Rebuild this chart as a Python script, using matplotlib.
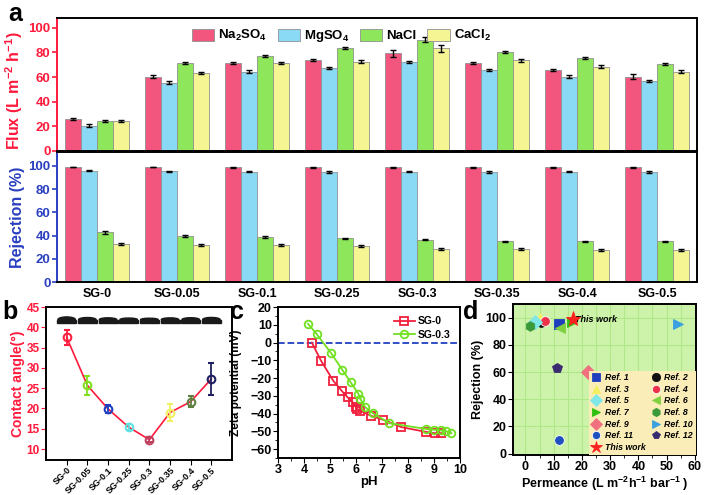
import numpy as np
import matplotlib
matplotlib.use('Agg')
import matplotlib.pyplot as plt
from matplotlib.patches import Ellipse, Rectangle

plt.rcParams['font.family'] = ['Liberation Sans', 'DejaVu Sans']
plt.rcParams['font.weight'] = 'bold'
plt.rcParams['axes.labelweight'] = 'bold'
plt.rcParams['axes.linewidth'] = 1.4
plt.rcParams['mathtext.fontset'] = 'custom'
plt.rcParams['mathtext.rm'] = 'Liberation Sans:bold'
plt.rcParams['mathtext.default'] = 'rm'

# ---- panel a data ----
samples = ['SG-0', 'SG-0.05', 'SG-0.1', 'SG-0.25', 'SG-0.3', 'SG-0.35', 'SG-0.4', 'SG-0.5']
salts = ['Na$_2$SO$_4$', 'MgSO$_4$', 'NaCl', 'CaCl$_2$']
salt_colors = ['#f2557d', '#8ad9f5', '#8ee65a', '#f5f594']

flux_na2so4 = [25.8, 60.3, 71.5, 73.6, 79.3, 71.5, 65.5, 60.3]
flux_mgso4 = [20.6, 55.4, 64.4, 67.4, 72.5, 65.5, 60.3, 56.5]
flux_nacl = [24.2, 71.5, 77.2, 83.4, 90.2, 80.4, 75.5, 70.4]
flux_cacl2 = [24.2, 63.3, 71.5, 72.5, 83.2, 73.6, 68.5, 64.4]
flux_err_na2so4 = [1.0, 1.0, 1.0, 1.0, 3.0, 1.0, 1.0, 2.0]
flux_err_mgso4 = [1.0, 1.0, 1.0, 1.0, 0.8, 0.8, 1.0, 0.8]
flux_err_nacl = [1.0, 1.0, 1.0, 1.0, 2.0, 1.0, 1.0, 1.0]
flux_err_cacl2 = [1.0, 1.0, 1.0, 1.0, 3.0, 1.2, 1.0, 1.0]

rej_na2so4 = [99.1, 99.0, 98.8, 98.8, 98.8, 98.8, 98.8, 98.8]
rej_mgso4 = [95.9, 95.3, 95.0, 94.8, 95.0, 94.8, 95.0, 94.8]
rej_nacl = [42.7, 39.5, 39.0, 37.5, 36.6, 34.9, 34.9, 34.9]
rej_cacl2 = [32.8, 32.0, 31.7, 30.8, 28.8, 28.5, 27.9, 27.9]
rej_err_na2so4 = [0.3, 0.3, 0.3, 0.3, 0.3, 0.3, 0.3, 0.3]
rej_err_mgso4 = [0.5, 0.5, 0.5, 0.5, 0.5, 0.5, 0.5, 0.5]
rej_err_nacl = [1.2, 0.8, 0.8, 0.8, 0.8, 0.8, 0.8, 0.8]
rej_err_cacl2 = [1.0, 0.8, 0.8, 0.8, 0.8, 0.8, 0.8, 0.8]

# ---- panel b data ----
contact_angle = [37.5, 25.7, 19.9, 15.4, 12.3, 19.0, 21.7, 27.3]
contact_err = [1.8, 2.3, 1.0, 0.8, 0.6, 2.2, 1.3, 3.9]
ca_colors = ['#ff2040', '#80e020', '#2040c0', '#60e0e0', '#c04060', '#f0f060', '#608040', '#202060']

# ---- panel c data ----
ph_sg0 = [4.30, 4.65, 5.12, 5.45, 5.68, 5.88, 5.98, 6.04, 6.17, 6.57, 7.05, 7.74, 8.69, 9.02, 9.28]
zeta_sg0 = [0.0, -10.1, -21.4, -27.2, -30.9, -33.7, -36.0, -37.3, -38.4, -41.2, -43.5, -47.6, -50.3, -51.0, -51.0]
ph_sg03 = [4.15, 4.48, 5.05, 5.47, 5.79, 6.09, 6.17, 6.35, 6.66, 7.28, 8.69, 9.00, 9.27, 9.46, 9.67]
zeta_sg03 = [10.6, 4.9, -6.1, -15.3, -22.3, -28.8, -31.8, -36.3, -39.9, -45.4, -48.6, -49.1, -49.5, -49.9, -51.0]

# ---- panel d data ----
ref_names = ['Ref. 1', 'Ref. 2', 'Ref. 3', 'Ref. 4', 'Ref. 5', 'Ref. 6', 'Ref. 7',
             'Ref. 8', 'Ref. 9', 'Ref. 10', 'Ref. 11', 'Ref. 12', 'This work']
permeance = [11.8, 5.6, 5.0, 7.0, 3.5, 12.4, 16.5, 1.5, 22.1, 54.0, 12.0, 11.3, 16.8]
rejection = [95.1, 96.8, 99.5, 97.6, 96.8, 92.4, 97.0, 93.9, 60.0, 95.1, 9.8, 62.9, 98.8]
ref_markers = ['s', 'o', '^', 'o', 'D', '<', '>', 'h', 'D', '>', 'o', 'p', '*']
ref_colors = ['#1f3fbf', '#101010', '#f2f060', '#ee3048', '#80e8e8', '#80d040', '#30c010',
              '#3a9a3a', '#f07080', '#3aa0e0', '#2050c0', '#3a2a70', '#ff2020']

fig = plt.figure(figsize=(7.06, 4.95), dpi=100)

# ================= a =================
ax1 = fig.add_axes([0.0807, 0.695, 0.907, 0.269])
ax2 = fig.add_axes([0.0807, 0.4303, 0.907, 0.2626])
x = np.arange(len(samples))
bw = 0.2
flux = [flux_na2so4, flux_mgso4, flux_nacl, flux_cacl2]
flux_err = [flux_err_na2so4, flux_err_mgso4, flux_err_nacl, flux_err_cacl2]
rej = [rej_na2so4, rej_mgso4, rej_nacl, rej_cacl2]
rej_err = [rej_err_na2so4, rej_err_mgso4, rej_err_nacl, rej_err_cacl2]
for k in range(4):
    xp = x + (k - 1.5) * bw
    ax1.bar(xp, flux[k], bw, color=salt_colors[k], edgecolor='#909090', linewidth=0.6,
            yerr=flux_err[k], capsize=2, error_kw={'elinewidth': 1, 'ecolor': 'k', 'capthick': 1},
            label=salts[k])
    ax2.bar(xp, rej[k], bw, color=salt_colors[k], edgecolor='#909090', linewidth=0.6,
            yerr=rej_err[k], capsize=2, error_kw={'elinewidth': 1, 'ecolor': 'k', 'capthick': 1})

red = '#ff1a3c'
blue = '#2a3fc0'
ax1.set_xlim(-0.5, 7.5)
ax1.set_ylim(0, 108)
ax1.set_yticks([0, 20, 40, 60, 80, 100])
ax1.set_xticks([])
ax1.tick_params(axis='y', colors=red, labelsize=9.5, width=1.2, pad=1)
ax1.spines['left'].set_color(red)
ax1.set_ylabel('Flux (L m$^{-2}$ h$^{-1}$)', color=red, fontsize=11.5)
ax1.yaxis.set_label_coords(-0.05, 0.45)
ax1.legend(loc='upper center', bbox_to_anchor=(0.444, 1.01), ncol=4, frameon=False,
           fontsize=9.5, handlelength=1.7, handleheight=1.0, handletextpad=0.3, columnspacing=0.8)

ax2.set_xlim(-0.5, 7.5)
ax2.set_ylim(0, 112)
ax2.set_yticks([0, 20, 40, 60, 80, 100])
ax2.set_xticks(x)
ax2.set_xticklabels(samples, fontsize=9)
ax2.tick_params(axis='x', length=0, pad=4)
ax2.tick_params(axis='y', colors=blue, labelsize=9.5, width=1.2, pad=1)
ax2.spines['left'].set_color(blue)
ax2.set_ylabel('Rejection (%)', color=blue, fontsize=11.5)
ax2.yaxis.set_label_coords(-0.05, 0.5)

fig.text(0.011, 0.995, 'a', fontsize=18, fontweight='bold', va='top')

# ================= b =================
ax3 = fig.add_axes([0.0652, 0.0707, 0.2635, 0.309])
ax3.plot(x, contact_angle, '-', color=red, linewidth=1.2, zorder=2)
for i in range(len(samples)):
    ax3.errorbar(x[i], contact_angle[i], yerr=contact_err[i], fmt='o', color=ca_colors[i],
                 markerfacecolor='none', markersize=5.5, markeredgewidth=1.5,
                 capsize=2.5, elinewidth=1.3, capthick=1.3, zorder=3)
    # droplet pictures along the top
    ax3.add_patch(Rectangle((x[i] - 0.46, 41.0), 0.92, 0.9, color='#1a1a1a', zorder=1))
    ax3.add_patch(Ellipse((x[i], 41.9), 0.85, 0.4 + contact_angle[i] / 40, color='#1a1a1a', zorder=1))
ax3.set_xlim(-1, 8)
ax3.set_ylim(7.3, 45)
ax3.set_yticks([10, 15, 20, 25, 30, 35, 40, 45])
ax3.set_xticks(x)
ax3.set_xticklabels(samples, rotation=45, ha='right', rotation_mode='anchor', fontsize=6.5)
ax3.tick_params(axis='y', colors=red, labelsize=8.5, pad=1)
ax3.tick_params(axis='x', pad=0.5)
ax3.set_ylabel('Contact angle(°)', color=red, fontsize=10, labelpad=1)
fig.text(0.004, 0.393, 'b', fontsize=18, fontweight='bold', va='top')

# ================= c =================
ax4 = fig.add_axes([0.3938, 0.0747, 0.2578, 0.305])
ax4.axhline(0, color='#2040c0', linestyle='--', linewidth=1.3, zorder=1)
ax4.plot(ph_sg0, zeta_sg0, '-s', color='#f0203c', markerfacecolor='none', markersize=5.5,
         markeredgewidth=1.3, linewidth=1.3, label='SG-0')
ax4.plot(ph_sg03, zeta_sg03, '-o', color='#70e020', markerfacecolor='none', markersize=5.5,
         markeredgewidth=1.3, linewidth=1.3, label='SG-0.3')
ax4.set_xlim(3, 10)
ax4.set_ylim(-65, 20)
ax4.set_xticks(range(3, 11))
ax4.set_yticks(range(-60, 21, 10))
ax4.set_yticks(range(-65, 20, 10), minor=True)
ax4.set_xticks(np.arange(3.5, 10, 1), minor=True)
ax4.tick_params(labelsize=9, pad=1)
ax4.set_xlabel('pH', fontsize=9.5, labelpad=0)
ax4.set_ylabel('Zeta potential (mV)', fontsize=8.5)
ax4.yaxis.set_label_coords(-0.2, 0.5)
ax4.legend(loc='upper right', frameon=False, fontsize=7.5, handlelength=2.0, handletextpad=0.3,
           labelspacing=0.3)
fig.text(0.326, 0.393, 'c', fontsize=18, fontweight='bold', va='top')

# ================= d =================
ax5 = fig.add_axes([0.7266, 0.0808, 0.2592, 0.305])
ax5.set_facecolor('#cdf3aa')
ax5.set_xticks(range(-5, 61, 5), minor=True)
ax5.grid(True, which='both', color='#b0e888', linewidth=0.8)
ax5.set_axisbelow(True)
handles = []
for i in range(len(ref_names)):
    ms = 11 if ref_markers[i] == '*' else 7
    ec = 'white' if ref_markers[i] == 'o' and i != 1 else ref_colors[i]
    h, = ax5.plot(permeance[i], rejection[i], linestyle='none', marker=ref_markers[i],
                  color=ref_colors[i], markersize=ms, markeredgecolor=ec,
                  markeredgewidth=0.6, label=ref_names[i], zorder=3 if i < 12 else 4)
    handles.append(h)
ax5.text(permeance[-1] + 0.9, rejection[-1], 'This work', fontsize=6.5, fontstyle='italic',
         fontweight='bold', va='center')
order = [0, 2, 4, 6, 8, 10, 12, 1, 3, 5, 7, 9, 11]
leg = ax5.legend([handles[i] for i in order], [ref_names[i] for i in order], loc='lower right',
                 ncol=2, prop={'style': 'italic', 'weight': 'bold', 'size': 6.3},
                 facecolor='#fbedb8', edgecolor='none', framealpha=1, fancybox=False,
                 borderaxespad=0.05, labelspacing=0.3, handletextpad=0.5, columnspacing=0.6,
                 handlelength=1.0, borderpad=0.3, markerscale=0.85)
ax5.set_xlim(-4.4, 60.4)
ax5.set_ylim(-1, 110)
ax5.set_xticks(range(0, 61, 10))
ax5.set_yticks(range(0, 101, 20))
ax5.tick_params(labelsize=9, pad=1)
ax5.set_xlabel('Permeance (L m$^{-2}$h$^{-1}$ bar$^{-1}$ )', fontsize=9, labelpad=1)
ax5.set_ylabel('Rejection (%)', fontsize=9, labelpad=1)
fig.text(0.656, 0.393, 'd', fontsize=18, fontweight='bold', va='top')

fig.savefig('out.png', dpi=100)
